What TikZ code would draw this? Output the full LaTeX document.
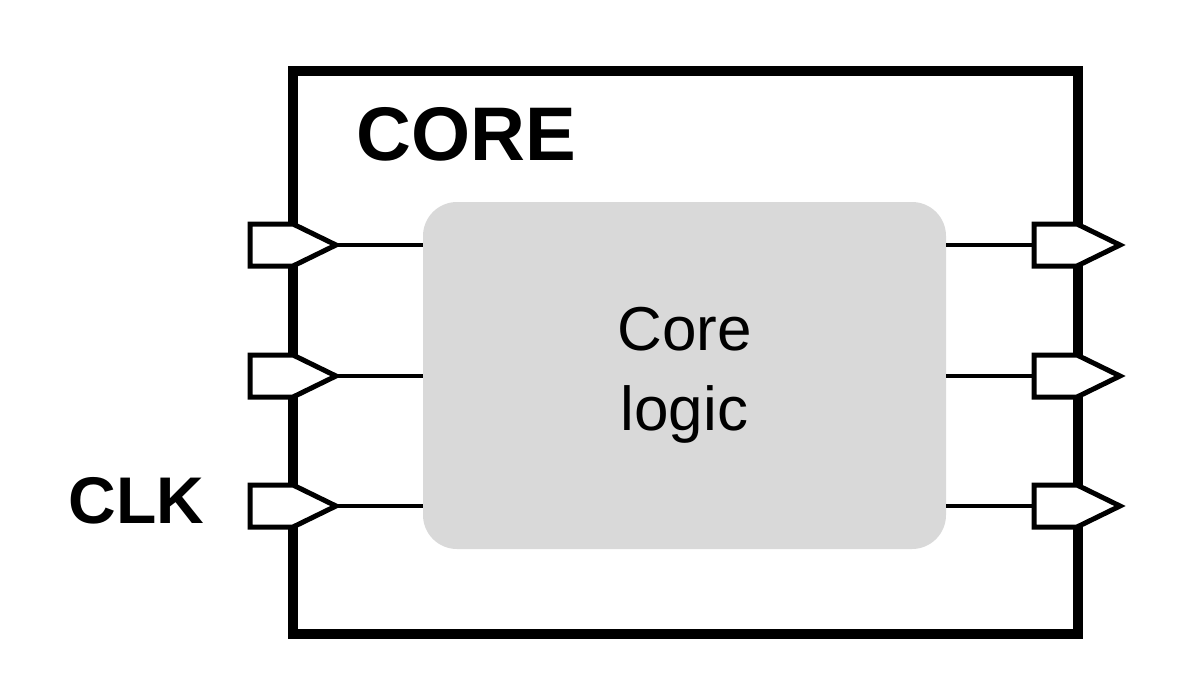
\documentclass[tikz,border=0pt]{standalone}
\usepackage{fontspec}
\setmainfont{Liberation Sans}
\begin{document}
\begin{tikzpicture}[x=0.5pt,y=-0.5pt,
  frame/.style={draw=black,line width=5pt,line join=miter},
  logicbox/.style={fill=black!15,draw=none,rounded corners=17pt},
  wire/.style={draw=black,line width=1.6pt},
  portshape/.style={draw=black,fill=white,line width=2.5pt,line join=miter},
  bigtitle/.style={font=\fontsize{38}{44}\selectfont\bfseries},
  pinlabel/.style={font=\fontsize{33}{38}\selectfont\bfseries},
  corelabel/.style={font=\fontsize{31}{40}\selectfont,align=center}]
\useasboundingbox (0,0) rectangle (1200,675);
% outer block
\draw[frame] (293,71) rectangle (1078,634);
\node[bigtitle,anchor=base west,inner sep=0pt] (title) at (356,160) {CORE};
% core logic
\fill[logicbox] (423,202) rectangle (946,549);
\node[corelabel] (core) at (684.5,375.5) {Core\\logic};
\coordinate (cw) at (423,375);
\coordinate (ce) at (946,375);
% input ports
\foreach \n/\y in {1/245,2/376,3/506}{
  \coordinate (inTip\n) at (336,\y);
  \draw[wire] (inTip\n) -- (cw |- inTip\n);
  \draw[portshape] (250,\y-21) -- (293,\y-21) -- (inTip\n) -- (293,\y+21) -- (250,\y+21) -- cycle;
}
% output ports
\foreach \n/\y in {1/245,2/376,3/506}{
  \coordinate (outBase\n) at (1034,\y);
  \draw[wire] (ce |- outBase\n) -- (outBase\n);
  \draw[portshape] (1034,\y-21) -- (1077,\y-21) -- (1120,\y) -- (1077,\y+21) -- (1034,\y+21) -- cycle;
}
\node[pinlabel,anchor=base west,inner sep=0pt] (clk) at (68,523) {CLK};
\end{tikzpicture}
\end{document}
